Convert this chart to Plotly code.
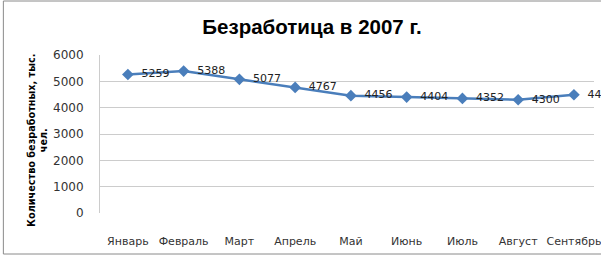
import plotly.graph_objects as go

months = ["Январь", "Февраль", "Март", "Апрель", "Май", "Июнь", "Июль", "Август", "Сентябрь"]
unemployed = [5259, 5388, 5077, 4767, 4456, 4404, 4352, 4300, 4490]
y_ticks = [0, 1000, 2000, 3000, 4000, 5000, 6000]

title_text = "Безработица в 2007 г."
y_title = "Количество безработных, тыс.<br>чел."

W, H = 601, 257
L, R, T, B = 100, 0, 55, 44
pw = W - L - R
ph = H - T - B

fig = go.Figure()
fig.add_trace(go.Scatter(
    x=list(range(len(months))), y=unemployed,
    mode="lines+markers+text",
    line=dict(color="#4A7EBB", width=2.5),
    marker=dict(symbol="diamond", size=9, color="#4A7EBB"),
    text=[str(v) for v in unemployed],
    texttemplate="  %{text}",
    textposition="middle right",
    textfont=dict(family="DejaVu Sans", size=11, color="#222222"),
    cliponaxis=False,
    hoverinfo="skip",
))

fig.update_layout(
    width=W, height=H,
    margin=dict(l=L, r=R, t=T, b=B),
    paper_bgcolor="white", plot_bgcolor="white",
    showlegend=False,
    title=dict(text=title_text, x=312 / W, xanchor="center", xref="container",
               y=1 - 26.5 / H, yanchor="middle", yref="container",
               font=dict(family="Liberation Sans", size=20.5, color="black", weight="bold")),
    xaxis=dict(
        range=[-0.5, 8.36],
        tickmode="array",
        tickvals=list(range(len(months))),
        ticktext=months,
        showgrid=False,
        zeroline=False,
        showline=False,
        ticks="",
        ticklabelstandoff=20,
        ticklabeloverflow="allow",
        tickfont=dict(family="DejaVu Sans", size=11, color="#333333"),
        fixedrange=True,
    ),
    yaxis=dict(
        range=[0, 6000],
        tickmode="array",
        tickvals=y_ticks,
        ticktext=[str(v) for v in y_ticks],
        showgrid=True, gridcolor="#CCCCCC", gridwidth=1,
        zeroline=False,
        showline=True, linecolor="#CCCCCC", linewidth=1,
        ticks="",
        ticklabelstandoff=13,
        tickfont=dict(family="DejaVu Sans", size=12, color="#333333"),
        fixedrange=True,
    ),
    annotations=[dict(
        text=y_title, textangle=-90,
        xref="paper", yref="paper",
        x=(37 - L) / pw, y=(H - B - 140) / ph,
        xanchor="center", yanchor="middle",
        showarrow=False,
        font=dict(family="DejaVu Sans", size=9.7, color="black", weight="bold"),
    )],
    shapes=[dict(
        type="rect", xref="paper", yref="paper",
        x0=(2 - L) / pw, x1=1.2,
        y0=(H - B - 254) / ph, y1=(H - B - 1) / ph,
        line=dict(color="#8A8A8A", width=1),
        layer="below",
    )],
)

fig.write_html("out.html")
